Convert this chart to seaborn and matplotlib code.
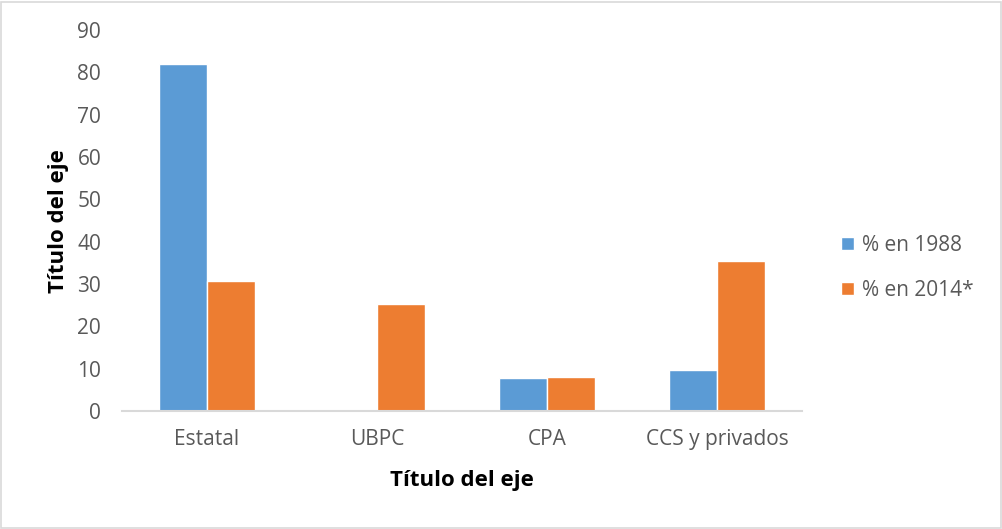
import matplotlib
matplotlib.use("Agg")
import matplotlib.pyplot as plt
import seaborn as sns
import pandas as pd
from matplotlib.patches import Rectangle

categories = ["Estatal", "UBPC", "CPA", "CCS y privados"]
series_names = ["% en 1988", "% en 2014*"]
values_1988 = [82, 0, 7.8, 9.8]
values_2014 = [30.8, 25.3, 8.0, 35.4]
yticks = [0, 10, 20, 30, 40, 50, 60, 70, 80, 90]
colors = ["#5B9BD5", "#ED7D31"]

df = pd.DataFrame({
    "cat": categories * 2,
    "serie": [series_names[0]] * 4 + [series_names[1]] * 4,
    "val": values_1988 + values_2014,
})

sns.set_theme(style="white")
plt.rcParams["font.family"] = ["Open Sans", "DejaVu Sans"]

fig = plt.figure(figsize=(10.03, 5.29), dpi=100)
ax = fig.add_axes([0.1216, 0.223, 0.678, 0.72])

sns.barplot(data=df, x="cat", y="val", hue="serie", palette=colors,
            width=0.57, ax=ax, saturation=1, legend=True)

ax.set_ylim(0, 90)
ax.set_xlim(-0.5, 3.5)
ax.set_yticks(yticks)
ax.set_yticklabels([str(t) for t in yticks])
ax.tick_params(axis="both", length=0, labelsize=15, colors="#595959")
ax.tick_params(axis="y", pad=15)
ax.tick_params(axis="x", pad=13)
for s in ["top", "right", "left"]:
    ax.spines[s].set_visible(False)
ax.spines["bottom"].set_color("#D9D9D9")
ax.spines["bottom"].set_linewidth(1.5)

ax.set_xlabel("Título del eje", fontsize=16, fontweight="bold", color="black", labelpad=14)
ax.set_ylabel("Título del eje", fontsize=16, fontweight="bold", color="black", labelpad=6)

leg = ax.legend(loc="center left", bbox_to_anchor=(1.03, 0.375), frameon=False,
                fontsize=15, handlelength=0.6, handleheight=0.6, handletextpad=0.4,
                labelspacing=1.15)
for t in leg.get_texts():
    t.set_color("#595959")

fig.patches.append(Rectangle((0.001, 0.002), 0.997, 0.995, transform=fig.transFigure,
                             fill=False, edgecolor="#D9D9D9", linewidth=1.2))

fig.savefig("out.png", dpi=100)
